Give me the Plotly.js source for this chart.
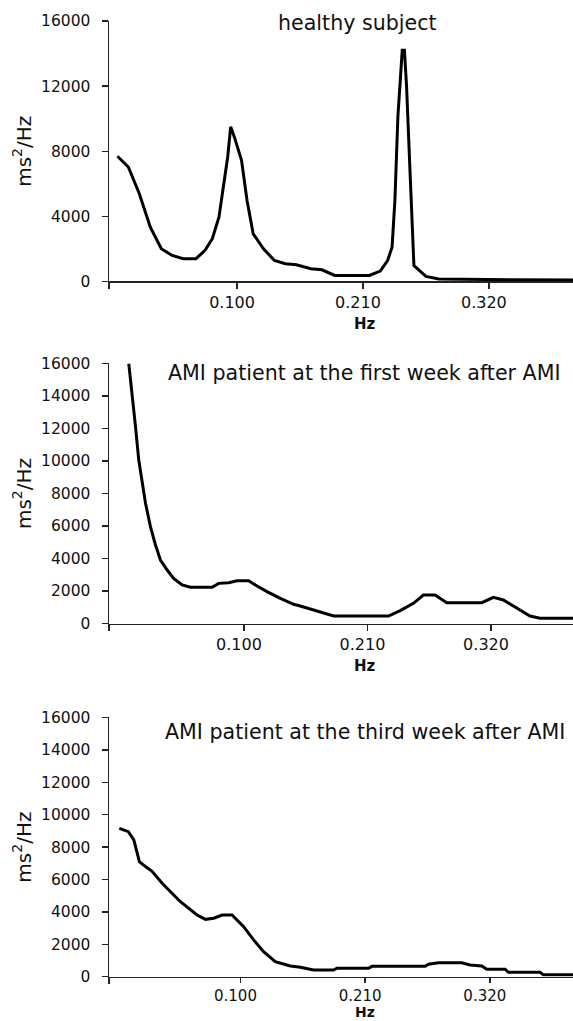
<!DOCTYPE html>
<html>
<head>
<meta charset="utf-8">
<script src="https://cdn.plot.ly/plotly-3.0.1.min.js"></script>
<style>html,body{margin:0;padding:0;background:#fff;}</style>
</head>
<body>
<div id="chart" style="width:573px;height:1021px;"></div>
<script>
// Panel titles
const panelTitles = ["healthy subject", "AMI patient at the first week after AMI", "AMI patient at the third week after AMI"];
const xTickVals = [0.100, 0.210, 0.320];
const xTickText = ["0.100", "0.210", "0.320"];
const yTicks1 = [0, 4000, 8000, 12000, 16000];
const yTicks23 = [0, 2000, 4000, 6000, 8000, 10000, 12000, 14000, 16000];

// healthy subject
const hsFreq = [-0.0045, 0.0050, 0.0146, 0.0242, 0.0338, 0.0433, 0.0529, 0.0641, 0.0720, 0.0784,
  0.0842, 0.0880, 0.0918, 0.0944, 0.0976, 0.1039, 0.1087, 0.1141, 0.1231, 0.1326,
  0.1422, 0.1518, 0.1645, 0.1741, 0.1853, 0.1964, 0.2156, 0.2251, 0.2315, 0.2354,
  0.2379, 0.2405, 0.2427, 0.2443, 0.2462, 0.2481, 0.2507, 0.2532, 0.2545, 0.2650,
  0.2762, 0.3400, 0.3936];
const hsPsd = [7690, 7030, 5390, 3340, 2010, 1600, 1400, 1400, 1910, 2630,
  3960, 5800, 7650, 9500, 8880, 7450, 4980, 2930, 2010, 1290,
  1090, 1030, 780, 720, 370, 370, 370, 640, 1290, 2110,
  4980, 10110, 12160, 14210, 14210, 11960, 7450, 3140, 980, 310,
  160, 100, 90];

// AMI first week
const w1Freq = [-0.0026, 0.0004, 0.0034, 0.0063, 0.0093, 0.0123, 0.0167, 0.0212, 0.0256, 0.0316,
  0.0374, 0.0449, 0.0523, 0.0612, 0.0716, 0.0775, 0.0864, 0.0938, 0.1042, 0.1101,
  0.1205, 0.1324, 0.1442, 0.1501, 0.1620, 0.1798, 0.2287, 0.2391, 0.2509, 0.2598,
  0.2702, 0.2806, 0.3118, 0.3221, 0.3310, 0.3429, 0.3547, 0.3636, 0.3930];
const w1Psd = [16000, 14170, 12110, 10060, 8630, 7400, 5960, 4830, 3910, 3290,
  2780, 2370, 2230, 2230, 2230, 2470, 2510, 2630, 2630, 2370,
  1960, 1550, 1180, 1080, 830, 460, 460, 790, 1240, 1750,
  1750, 1280, 1280, 1610, 1450, 940, 460, 320, 320];

// AMI third week
const w3Freq = [-0.0069, 0.0011, 0.0059, 0.0108, 0.0156, 0.0220, 0.0309, 0.0470, 0.0617, 0.0691,
  0.0764, 0.0838, 0.0926, 0.1028, 0.1116, 0.1204, 0.1307, 0.1440, 0.1528, 0.1645,
  0.1821, 0.1851, 0.2130, 0.2160, 0.2630, 0.2659, 0.2747, 0.2953, 0.3026, 0.3129,
  0.3173, 0.3335, 0.3364, 0.3643, 0.3672, 0.3934];
const w3Psd = [9160, 8950, 8440, 7100, 6830, 6510, 5770, 4630, 3810, 3540,
  3610, 3810, 3810, 3090, 2270, 1540, 930, 660, 580, 410,
  410, 520, 520, 640, 640, 770, 860, 860, 720, 660,
  460, 460, 270, 270, 120, 120];

const FONT = "DejaVu Sans, Verdana, sans-serif";
const AX = '#222';
const xRanges = [[-0.0119, 0.3935], [-0.0202, 0.3930], [-0.0160, 0.3934]];
const yDomains = [[0.72429, 0.97943], [0.38932, 0.64398], [0.04339, 0.29726]];
const xTickLen = [6, 6, 5];
const xTickFontSize = [16, 16, 15];

function xaxis(i) {
  const r = xRanges[i];
  return {
    domain: [0, 1], anchor: i === 0 ? 'y' : 'y' + (i + 1), range: r,
    tickmode: 'array', tickvals: xTickVals, ticktext: xTickText,
    ticks: 'outside', ticklen: xTickLen[i], tickwidth: 1.5, tickcolor: AX,
    minor: {tickmode: 'array', tickvals: [r[0] + 0.0002], ticks: 'outside', ticklen: 6,
            tickwidth: 1.5, tickcolor: AX, showgrid: false},
    showline: true, linecolor: AX, linewidth: 1.5, showgrid: false, zeroline: false,
    ticklabelshift: -5, tickfont: {family: FONT, size: xTickFontSize[i], color: '#111'},
    layer: 'below traces', fixedrange: true
  };
}
function yaxis(i, ticks) {
  return {
    domain: yDomains[i], anchor: i === 0 ? 'x' : 'x' + (i + 1), range: [0, 16000],
    tickmode: 'array', tickvals: ticks, ticktext: ticks.map(String),
    ticks: 'outside', ticklen: 6, tickwidth: 1.5, tickcolor: AX,
    showline: true, linecolor: AX, linewidth: 1.5, showgrid: false, zeroline: false,
    tickfont: {family: FONT, size: 15.5, color: '#111'}, ticklabelstandoff: 8,
    title: {text: 'ms<sup>2</sup>/Hz', font: {family: FONT, size: 20, color: '#111'}, standoff: 4},
    layer: 'below traces', fixedrange: true
  };
}

const line = {color: '#000', width: 3};
const data = [
  {x: hsFreq, y: hsPsd, type: 'scatter', mode: 'lines', line: line, xaxis: 'x', yaxis: 'y'},
  {x: w1Freq, y: w1Psd, type: 'scatter', mode: 'lines', line: line, xaxis: 'x2', yaxis: 'y2'},
  {x: w3Freq, y: w3Psd, type: 'scatter', mode: 'lines', line: line, xaxis: 'x3', yaxis: 'y3'}
];

const titleX = [0.5345, 0.5496, 0.5528];
const titleY = [0.97718, 0.63516, 0.28335];
const hzY = [0.68266, 0.34770, 0.0];
const hzAnchor = ['middle', 'middle', 'bottom'];
const hzSize = [15, 15, 14];
const annotations = [];
for (let i = 0; i < 3; i++) {
  annotations.push({text: panelTitles[i], xref: 'paper', yref: 'paper', x: titleX[i], y: titleY[i],
    xanchor: 'center', yanchor: 'middle', showarrow: false, font: {family: FONT, size: 20.6, color: '#111'}});
  annotations.push({text: '<b>Hz</b>', xref: 'paper', yref: 'paper', x: 0.5517, y: hzY[i],
    xanchor: 'center', yanchor: hzAnchor[i], showarrow: false, borderpad: 0,
    font: {family: FONT, size: hzSize[i], color: '#111'}});
}

const layout = {
  width: 573, height: 1021,
  margin: {l: 109, r: 0, t: 0, b: 0},
  paper_bgcolor: '#fff', plot_bgcolor: '#fff', showlegend: false,
  xaxis: xaxis(0), xaxis2: xaxis(1), xaxis3: xaxis(2),
  yaxis: yaxis(0, yTicks1), yaxis2: yaxis(1, yTicks23), yaxis3: yaxis(2, yTicks23),
  annotations: annotations
};

Plotly.newPlot('chart', data, layout, {staticPlot: true, displayModeBar: false});
</script>
</body>
</html>
